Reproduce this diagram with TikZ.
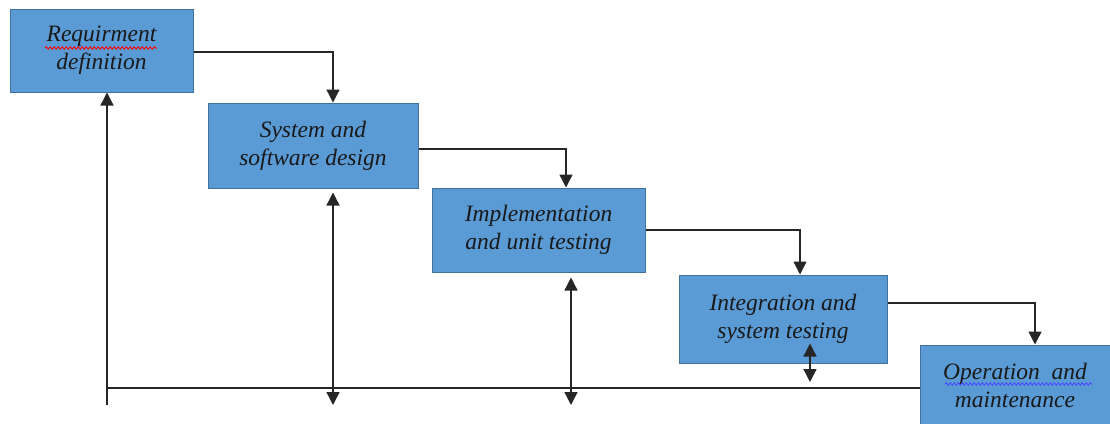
\documentclass[tikz,border=0pt]{standalone}
\usepackage{fontspec}
\setmainfont{Liberation Serif}
\usetikzlibrary{arrows.meta,decorations.pathmorphing}
\definecolor{boxfill}{HTML}{5B9BD5}
\definecolor{boxline}{HTML}{41719C}
\tikzset{
  stage/.style={draw=boxline, line width=1pt, fill=boxfill, align=center,
    font=\fontsize{23.5}{28}\selectfont\itshape, text=black!90, inner sep=0pt},
  flow/.style={line width=1.3pt, draw=black!85, -{Triangle[width=13pt,length=13pt]}},
  both/.style={line width=1.3pt, draw=black!85, {Triangle[width=13pt,length=13pt]}-{Triangle[width=13pt,length=13pt]}},
  plain/.style={line width=1.3pt, draw=black!85},
  spell/.style={decorate, decoration={snake, amplitude=1.1pt, segment length=4pt}, line width=1pt}
}
\begin{document}
\begin{tikzpicture}[x=1pt,y=-1pt]
\useasboundingbox (0,0) rectangle (1110,423);
\clip (0,0) rectangle (1110,423);
\node[stage, minimum width=183pt, minimum height=83pt] (r) at (101.5,50.5) {Requirment\\definition};
\node[stage, minimum width=210pt, minimum height=85pt] (s) at (313,145.5) {System and\\software design};
\node[stage, minimum width=213pt, minimum height=84pt] (i) at (538.5,230) {Implementation\\and unit testing};
\node[stage, minimum width=208pt, minimum height=88pt] (t) at (783,319) {Integration and\\system testing};
\node[stage, minimum width=190pt, minimum height=80pt] (o) at (1015,385) {Operation~ and\\maintenance};
% spell-check underlines
\coordinate (u1a) at (45,48); \coordinate (u1b) at (157,48);
\draw[spell, red] (u1a) -- (u1b);
\coordinate (u5a) at (945,384); \coordinate (u5b) at (1092,384);
\draw[spell, blue!70] (u5a) -- (u5b);
% main flow
\draw[flow] ([yshift=-1.5pt]r.east) -| ([xshift=20pt]s.north);
\draw[flow] ([yshift=-3.5pt]s.east) -| ([xshift=27.5pt]i.north);
\draw[flow] (i.east) -| ([xshift=17pt]t.north);
\draw[flow] ([yshift=16pt]t.east) -| ([xshift=20pt]o.north);
% feedback
\coordinate (fb) at (107,405);
\coordinate (fh) at (108,388);
\draw[flow] (fb) -- (fb |- r.south);
\draw[plain] (fh) -- (fh -| o.west);
\coordinate (d2) at (333,405);
\draw[both] ([yshift=-4pt]s.south -| d2) -- (d2);
\coordinate (d3) at (571,405);
\draw[both] ([yshift=-5pt]i.south -| d3) -- (d3);
\coordinate (d4) at (810,382);
\draw[both] ([yshift=20pt]t.south -| d4) -- (d4);
\end{tikzpicture}
\end{document}
